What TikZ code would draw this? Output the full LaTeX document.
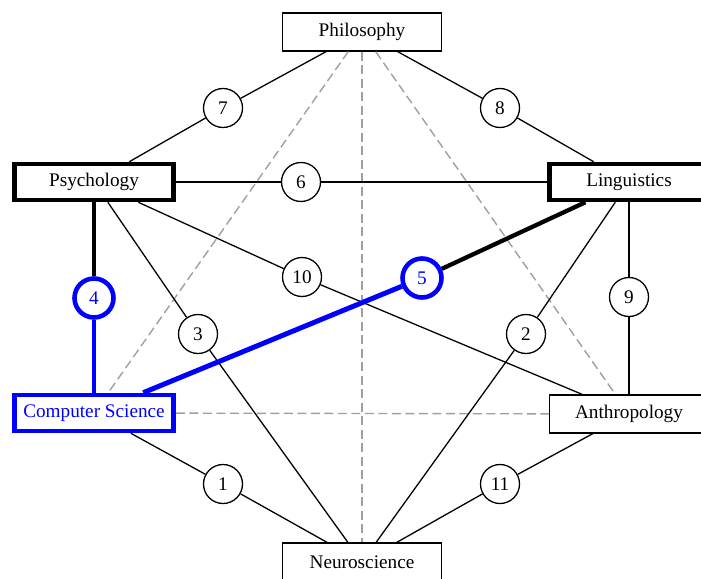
\documentclass[tikz,border=0pt]{standalone}
\usepackage{fontspec}
\setmainfont{Liberation Serif}
\usepackage{xcolor}

\begin{document}
\begin{tikzpicture}[
    x=1bp, y=-1bp,
    every node/.style={font=\fontsize{19.3}{23}\selectfont},
    field/.style={rectangle,draw,fill=white,line width=1.3pt,minimum width=159bp,minimum height=38bp,inner sep=0pt},
    core/.style={field,line width=4.5pt,minimum width=159bp,minimum height=36bp},
    link/.style={circle,draw,fill=white,line width=1.3pt,minimum size=39bp,inner sep=0pt},
    hot/.style={draw=blue,text=blue,line width=4.6pt},
    plain/.style={line width=1.3pt},
    heavy/.style={line width=4.3pt},
    chosen/.style={draw=blue,line width=5pt},
    faint/.style={draw=gray!75,line width=1.4pt,dash pattern=on 9bp off 4.5bp}
]
\useasboundingbox (0,0) rectangle (701,579);

\node[field] (phil) at (362,32) {Philosophy};
\node[core] (psy) at (94,182) {Psychology};
\node[core] (ling) at (629,182) {Linguistics};
\node[core,hot] (cs) at (94,413) {Computer Science};
\node[field] (anth) at (629,414) {Anthropology};
\node[field] (neuro) at (362,562) {Neuroscience};

\node[link] (c7) at (223,108) {7};
\node[link] (c8) at (500,108) {8};
\node[link] (c6) at (301,182) {6};
\node[link,hot] (c4) at (94,298) {4};
\node[link] (c10) at (302,277) {10};
\node[link] (c3) at (198,334) {3};
\node[link,hot] (c5) at (422,278) {5};
\node[link] (c2) at (526,334) {2};
\node[link] (c9) at (629,297) {9};
\node[link] (c1) at (223,484) {1};
\node[link] (c11) at (500,484) {11};

\draw[faint] (phil) -- (cs);
\draw[faint] (phil) -- (neuro);
\draw[faint] (phil) -- (anth);
\draw[faint] (cs) -- (anth);

\draw[plain] (phil) -- (c7) -- (psy);
\draw[plain] (phil) -- (c8) -- (ling);
\draw[plain] (psy) -- (c6) -- (ling);
\draw[plain] (psy) -- (c10) -- (anth);
\draw[plain] (psy) -- (c3) -- (neuro);
\draw[plain] (ling) -- (c2) -- (neuro);
\draw[plain] (ling) -- (c9) -- (anth);
\draw[plain] (cs) -- (c1) -- (neuro);
\draw[plain] (anth) -- (c11) -- (neuro);

\draw[heavy] (psy) -- (c4);
\draw[chosen] (c4) -- (cs);
\draw[heavy] (ling) -- (c5);
\draw[chosen] (c5) -- (cs);
\end{tikzpicture}
\end{document}
